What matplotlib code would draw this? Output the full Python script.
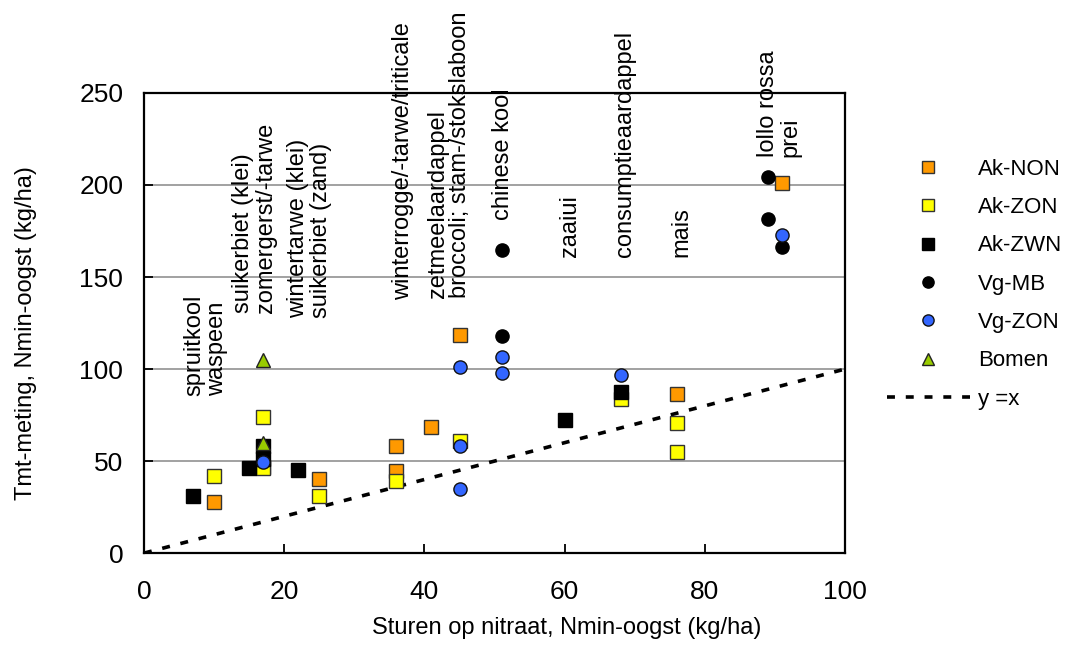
import matplotlib
matplotlib.use("Agg")
import matplotlib.pyplot as plt

plt.rcParams['font.family'] = ['Liberation Sans Narrow', 'Liberation Sans', 'DejaVu Sans']

# ---- data ----
ak_non_x = [10, 17, 25, 36, 36, 41, 45, 76, 91]
ak_non_y = [27.5, 47, 40, 58.3, 44.7, 68.6, 118.5, 86.4, 200.9]

ak_zon_x = [10, 17, 17, 25, 36, 45, 68, 76, 76]
ak_zon_y = [41.8, 74, 46, 31, 39, 61, 84, 70.5, 54.7]

ak_zwn_x = [7, 15, 17, 17, 22, 60, 68]
ak_zwn_y = [31, 46, 58, 51, 45, 72.3, 87.3]

vg_mb_x = [51, 51, 89, 89, 91]
vg_mb_y = [164.5, 118, 204.5, 181.5, 166.5]

vg_zon_x = [17, 45, 45, 45, 51, 51, 68, 91]
vg_zon_y = [49.6, 101, 58.3, 34.6, 106.3, 97.7, 96.7, 172.8]

bomen_x = [17, 17]
bomen_y = [105, 60]

line_x = [0, 100]
line_y = [0, 100]

crop_labels = ["spruitkool\nwaspeen",
               "suikerbiet (klei)\nzomergerst/-tarwe",
               "wintertarwe (klei)\nsuikerbiet (zand)",
               "winterrogge/-tarwe/triticale",
               "zetmeelaardappel\nbroccoli; stam-/stokslaboon",
               "chinese kool",
               "zaaiui",
               "consumptieaardappel",
               "mais",
               "lollo rossa\nprei"]
crop_label_x = [8.8, 15.8, 23.6, 36.9, 43.5, 51.2, 60.8, 68.6, 76.7, 90.6]
crop_label_y = [85.3, 130.4, 127.7, 137.5, 138.6, 181, 161, 161, 161, 215]

# ---- figure ----
fig = plt.figure(figsize=(10.67, 6.64), dpi=100)
ax = fig.add_axes([0.135, 0.167, 0.657, 0.693])

ms = 9.5
edge = '#333333'
ax.plot(ak_non_x, ak_non_y, 's', ms=ms, mfc='#FF9900', mec=edge, mew=1, label='Ak-NON', zorder=3)
ax.plot(ak_zon_x, ak_zon_y, 's', ms=ms, mfc='#FFFF00', mec=edge, mew=1, label='Ak-ZON', zorder=3)
ax.plot(ak_zwn_x, ak_zwn_y, 's', ms=ms, mfc='black', mec='black', mew=1, label='Ak-ZWN', zorder=3)
ax.plot(vg_mb_x, vg_mb_y, 'o', ms=ms, mfc='black', mec='black', mew=1, label='Vg-MB', zorder=3)
ax.plot(vg_zon_x, vg_zon_y, 'o', ms=ms, mfc='#3366FF', mec='#111111', mew=1, label='Vg-ZON', zorder=3)
ax.plot(bomen_x, bomen_y, '^', ms=ms, mfc='#99CC00', mec='#222222', mew=1, label='Bomen', zorder=3)
ax.plot(line_x, line_y, color='black', lw=2.6, linestyle=(0, (2.2, 3.0)), label='y =x', zorder=2)

ax.set_xlim(0, 100)
ax.set_ylim(0, 250)
ax.set_xticks([0, 20, 40, 60, 80, 100])
ax.set_yticks([0, 50, 100, 150, 200, 250])
ax.yaxis.grid(True, color='#9a9a9a', lw=1.3)
ax.set_axisbelow(True)
for s in ax.spines.values():
    s.set_linewidth(1.6)
    s.set_color('black')
ax.tick_params(direction='in', length=6.5, width=1.3, labelsize=19)
ax.tick_params(axis='x', pad=19)
ax.tick_params(axis='y', pad=15)

fig.text(0.531, 0.054, 'Sturen op nitraat, Nmin-oogst (kg/ha)', ha='center', va='center', fontsize=17)
fig.text(0.024, 0.498, 'Tmt-meting, Nmin-oogst (kg/ha)', ha='center', va='center', rotation=90, fontsize=17)

for t, x, y in zip(crop_labels, crop_label_x, crop_label_y):
    ax.text(x, y, t, rotation=90, ha='center', va='bottom', multialignment='left',
            fontsize=17, linespacing=1.05)

leg = ax.legend(loc='upper left', bbox_to_anchor=(0.831, 0.761), bbox_transform=fig.transFigure,
                frameon=False, fontsize=16, handlelength=3.75, handletextpad=0.37,
                labelspacing=0.78, markerscale=0.85, borderaxespad=0, borderpad=0)

fig.savefig('out.png', dpi=100)
